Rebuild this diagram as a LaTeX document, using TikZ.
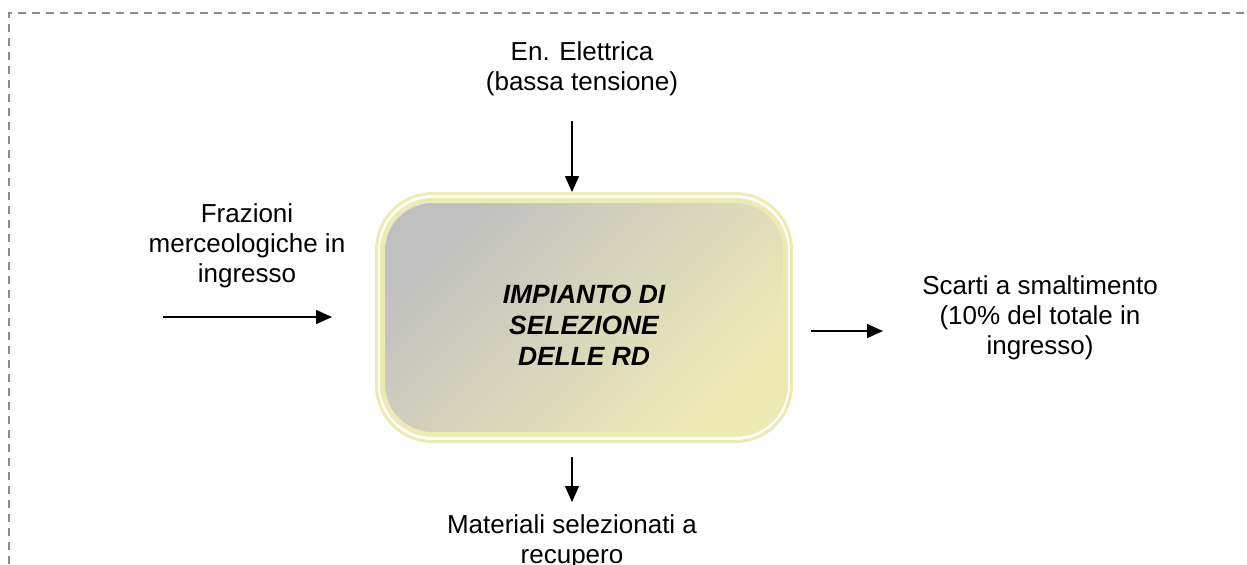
\documentclass[tikz,border=0pt]{standalone}
\usepackage{fontspec}
\setmainfont{Liberation Sans}
\usetikzlibrary{arrows.meta}

\definecolor{bordogrigio}{HTML}{8C8C8C}
\definecolor{giallino}{HTML}{EEEAB4}
\definecolor{grigiochiaro}{HTML}{C0C0C0}
\definecolor{paglia}{HTML}{EFEBB6}

\begin{document}
\begin{tikzpicture}[x=0.5pt, y=-0.5pt,
    etichetta/.style={font=\fontsize{13}{15}\selectfont, align=center, inner sep=0pt},
    freccia/.style={line width=0.75pt, -{Triangle[length=8pt,width=7pt]}},
    cornice/.style={bordogrigio, line width=0.75pt, dash pattern=on 4pt off 3pt},
    anello/.style={draw=giallino, line width=1.5pt, rounded corners=28pt,
      minimum width=207.5pt, minimum height=124pt, inner sep=0pt},
    impianto/.style={draw=giallino, line width=2.5pt, rounded corners=25pt,
      minimum width=201.5pt, minimum height=117pt, inner sep=0pt,
      top color=grigiochiaro, bottom color=paglia, shading angle=45},
    titolo/.style={align=center, inner sep=0pt,
      font=\fontsize{13.2}{15.5}\selectfont\bfseries\itshape}]
  \useasboundingbox (0,0) rectangle (1247,564);
  % --- Dashed frame ---
  \draw[cornice] (9,620) -- (9,13) -- (1270,13);
  % --- Plant box ---
  \node[anello] (ring) at (584,317.5) {};
  \node[impianto] (plant) at (584,317.5) {};
  \node[titolo] (nome) at (584,325) {IMPIANTO DI\\SELEZIONE\\DELLE RD};
  % --- Labels ---
  \node[etichetta] (energia) at (582,69) {En. Elettrica\\(bassa tensione)};
  \node[etichetta] (frazioni) at (247,246) {Frazioni\\merceologiche in\\ingresso};
  \node[etichetta] (scarti) at (1040,318) {Scarti a smaltimento\\(10\% del totale in\\ingresso)};
  \node[etichetta] (materiali) at (572,542) {Materiali selezionati a\\recupero};
  % --- Arrow ends ---
  \coordinate (en_a) at (572,121);
  \coordinate (fr_a) at (163,317);
  \coordinate (fr_b) at (332,317);
  \coordinate (sc_a) at (811,331);
  \coordinate (sc_b) at (883,331);
  \coordinate (ma_a) at (572,457);
  \coordinate (ma_b) at (572,502);
  % --- Arrows ---
  \draw[freccia] (en_a) -- (en_a |- ring.north);
  \draw[freccia] (fr_a) -- (fr_b);
  \draw[freccia] (sc_a) -- (sc_b);
  \draw[freccia] (ma_a) -- (ma_b);
\end{tikzpicture}
\end{document}
